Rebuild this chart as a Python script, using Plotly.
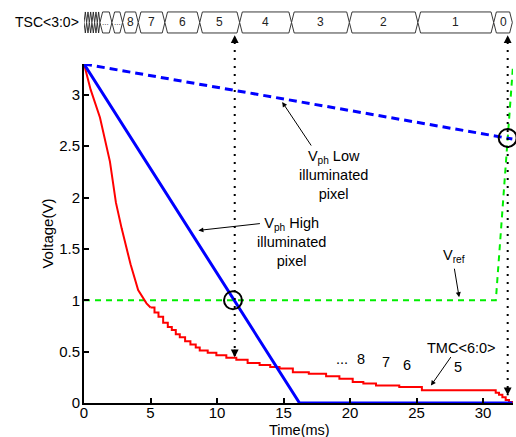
import plotly.graph_objects as go

YMAX = 3.3
XMAX = 32.25

# Vph high illuminated pixel (solid blue)
t_high = [0, 16.2, 32.2]
v_high = [3.3, 0, 0]
# Vph low illuminated pixel (dashed blue)
t_low = [0, 32.2]
v_low = [3.3, 2.57]
# Vref (dashed green)
t_ref = [0, 30.96, 32.26]
v_ref = [1, 1, 3.3]

# TMC<6:0> ramp (red) - smooth upper part then staircase
tmc_smooth_t = [0, 0.5, 1.2, 1.95, 2.4, 2.83, 3.5, 4.07, 4.7, 5.0]
tmc_smooth_v = [3.3, 3.05, 2.78, 2.35, 1.95, 1.70, 1.35, 1.10, 0.97, 0.93]
tmc_step_t = [5.0, 5.3, 5.6, 5.95, 6.3, 6.6, 6.9, 7.2, 7.6, 8.0,
              8.4, 8.7, 9.3, 9.95, 10.7, 11.45, 12.3, 13.2, 14.0, 14.7,
              15.7, 16.9, 18.2, 19.2, 20.2, 21.0, 21.95, 23.7, 25.4, 30.95,
              31.2, 31.45, 31.7, 31.95, 32.2]
tmc_step_v = [0.93, 0.88, 0.84, 0.78, 0.74, 0.71, 0.67, 0.64, 0.60, 0.57,
              0.54, 0.51, 0.49, 0.465, 0.44, 0.42, 0.39, 0.37, 0.35, 0.335,
              0.30, 0.285, 0.26, 0.235, 0.205, 0.19, 0.17, 0.155, 0.125, 0.10,
              0.08, 0.055, 0.03, 0.01, 0]

# TSC<3:0> bus segments
tsc_edges = [0, 0.2, 0.4, 0.6, 0.8, 1.0, 1.2, 2.1, 2.9,
             4.08, 6.08, 8.7, 11.7, 15.6, 19.95, 25.1, 30.8, 32.2]
tsc_labels = ["", "", "", "", "", "", "...", "...",
              "8", "7", "6", "5", "4", "3", "2", "1", "0"]

# sampling instants (dotted markers) and crossing circles
sample_t = [11.33, 31.85]
sample_v = [0.445, 0.075]
cross_t = [11.2, 31.85]
cross_v = [1.0, 2.58]

# step labels
step_lbl_t = [19.4, 20.8, 22.7, 24.3, 28.1]
step_lbl_v = [0.33, 0.33, 0.30, 0.27, 0.25]
step_lbl = ["...", "8", "7", "6", "5"]

FONT = "Arial, Liberation Sans, sans-serif"

fig = go.Figure()
fig.add_trace(go.Scatter(x=t_ref, y=v_ref, mode="lines",
                         line=dict(color="#00ee00", width=2, dash="6px,5px")))
fig.add_trace(go.Scatter(x=t_low, y=v_low, mode="lines",
                         line=dict(color="#0000ff", width=3, dash="8px,5px")))
fig.add_trace(go.Scatter(x=tmc_smooth_t, y=tmc_smooth_v, mode="lines",
                         line=dict(color="#ff0000", width=2)))
fig.add_trace(go.Scatter(x=tmc_step_t, y=tmc_step_v, mode="lines",
                         line=dict(color="#ff0000", width=2, shape="hv")))
fig.add_trace(go.Scatter(x=t_high, y=v_high, mode="lines",
                         line=dict(color="#0000ff", width=3)))
fig.add_trace(go.Scatter(x=cross_t, y=cross_v, mode="markers", cliponaxis=False,
                         marker=dict(symbol="circle-open", size=18,
                                     line=dict(color="black", width=2), color="black")))

shapes = []
BUS_TOP, BUS_BOT = 1.1535, 1.0915
BUS_MID = (BUS_TOP + BUS_BOT) / 2
annotations = []
for i, lab in enumerate(tsc_labels):
    x0, x1 = tsc_edges[i], tsc_edges[i + 1]
    s = min(0.2, (x1 - x0) / 2)
    path = (f"M {x0},{BUS_MID} L {x0+s},{BUS_TOP} L {x1-s},{BUS_TOP} "
            f"L {x1},{BUS_MID} L {x1-s},{BUS_BOT} L {x0+s},{BUS_BOT} Z")
    shapes.append(dict(type="path", path=path, xref="x", yref="paper",
                       line=dict(color="#222", width=0.9), fillcolor="white", layer="above"))
    if lab:
        annotations.append(dict(x=(x0 + x1) / 2, y=BUS_MID, xref="x", yref="paper",
                                xanchor="center", yanchor="middle",
                                text=lab, showarrow=False,
                                font=dict(size=8 if lab == "..." else 12, color="#222")))

annotations.append(dict(x=-0.008, y=BUS_MID, xref="paper", yref="paper", xanchor="right",
                        yanchor="middle", text="TSC&lt;3:0&gt;", showarrow=False,
                        font=dict(size=14, color="black")))

ARROW_TOP = 1.085
for t, v in zip(sample_t, sample_v):
    shapes.append(dict(type="line", xref="x", yref="paper", x0=t, x1=t,
                       y0=ARROW_TOP - 0.02, y1=v / YMAX,
                       line=dict(color="black", width=2, dash="2px,6px"), layer="above"))
    annotations.append(dict(x=t, y=ARROW_TOP, xref="x", yref="paper", text="",
                            showarrow=True, arrowhead=2, arrowsize=1.3, arrowwidth=1.2,
                            ax=0, ay=9, arrowcolor="black"))
    annotations.append(dict(x=t, y=v, xref="x", yref="y", text="",
                            showarrow=True, arrowhead=2, arrowsize=1.3, arrowwidth=1.2,
                            ax=0, ay=-9, arrowcolor="black"))

txt = dict(size=14.5, color="black")
annotations += [
    dict(x=18.75, y=2.22, xref="x", yref="y", showarrow=False, font=txt,
         xanchor="center", yanchor="middle",
         text="V<sub>ph</sub> Low<br>illuminated<br>pixel"),
    dict(x=14.9, y=2.93, xref="x", yref="y", text="", showarrow=True, arrowhead=2,
         arrowsize=1, arrowwidth=1, ax=30, ay=45, arrowcolor="black"),
    dict(x=15.6, y=1.57, xref="x", yref="y", showarrow=False, font=txt,
         xanchor="center", yanchor="middle",
         text="V<sub>ph</sub> High<br>illuminated<br>pixel"),
    dict(x=8.6, y=1.68, xref="x", yref="y", text="", showarrow=True, arrowhead=2,
         arrowsize=1, arrowwidth=1, ax=63, ay=-7, arrowcolor="black"),
    dict(x=27.8, y=1.43, xref="x", yref="y", showarrow=False, font=txt,
         xanchor="center", yanchor="middle", text="V<sub>ref</sub>"),
    dict(x=28.2, y=1.03, xref="x", yref="y", text="", showarrow=True, arrowhead=2,
         arrowsize=1, arrowwidth=1, ax=-5, ay=-30, arrowcolor="black"),
    dict(x=28.35, y=0.54, xref="x", yref="y", showarrow=False, font=txt,
         xanchor="center", yanchor="middle", text="TMC&lt;6:0&gt;"),
    dict(x=26.08, y=0.17, xref="x", yref="y", text="", showarrow=True, arrowhead=2,
         arrowsize=1, arrowwidth=1, ax=21, ay=-30, arrowcolor="black"),
    # axis titles
    dict(x=0.503, y=-0.081, xref="paper", yref="paper", showarrow=False,
         xanchor="center", yanchor="middle",
         text="Time(ms)", font=dict(size=14.5, color="black")),
    dict(x=-0.086, y=0.5, xref="paper", yref="paper", showarrow=False, textangle=-90,
         xanchor="center", yanchor="middle",
         text="Voltage(V)", font=dict(size=15, color="black")),
]
for t, v, l in zip(step_lbl_t, step_lbl_v, step_lbl):
    annotations.append(dict(x=t, y=v, xref="x", yref="y", text=l, showarrow=False,
                            xanchor="center", yanchor="bottom", font=txt))

axis_common = dict(showline=True, linecolor="black", linewidth=2, ticks="inside",
                   ticklen=5, tickwidth=1.5, tickcolor="black", showgrid=False,
                   zeroline=False, mirror=False, automargin=False,
                   tickfont=dict(size=15, color="black", family=FONT))

fig.update_layout(
    width=516, height=437,
    margin=dict(l=84, r=3, t=64, b=34),
    paper_bgcolor="white", plot_bgcolor="white",
    showlegend=False,
    font=dict(family=FONT, color="black"),
    xaxis=dict(range=[0, XMAX], tickvals=[0, 5, 10, 15, 20, 25, 30],
               ticklabelstandoff=-5, **axis_common),
    yaxis=dict(range=[0, YMAX], tickvals=[0, 0.5, 1, 1.5, 2, 2.5, 3],
               ticktext=["0", "0.5", "1", "1.5", "2", "2.5", "3"],
               ticklabelstandoff=-1, **axis_common),
    shapes=shapes,
    annotations=annotations,
)

fig.write_html(
    "out.html",
    config={"displayModeBar": False},
    post_script="document.body.style.margin='0';document.body.style.overflow='hidden';",
)
